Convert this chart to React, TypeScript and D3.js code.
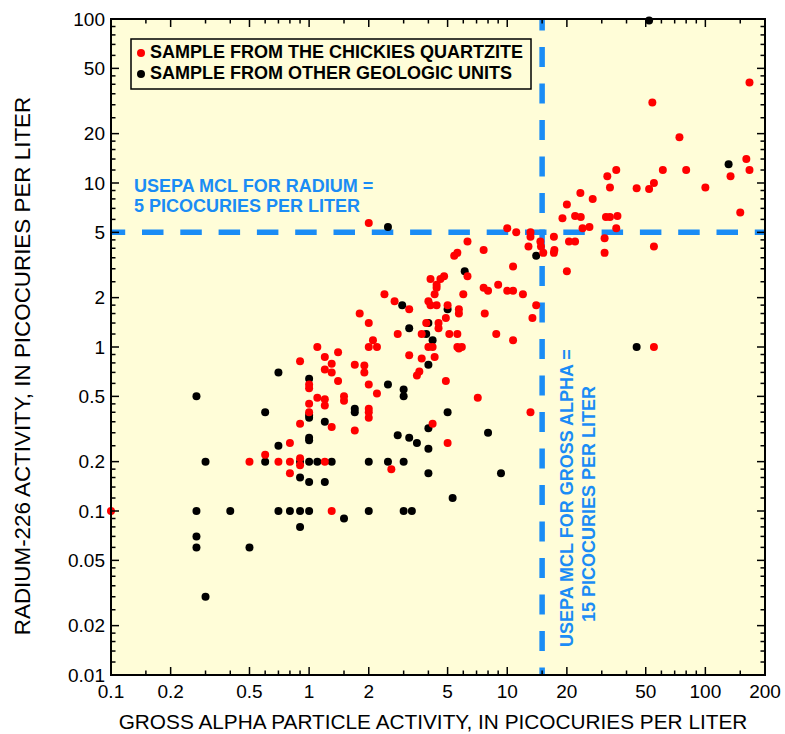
import * as d3 from 'd3';

// gross alpha (pCi/L), radium-226 (pCi/L)
const QUARTZITE: [number, number][] = [
  [167, 41], [54, 31], [74, 19], [161, 14], [167, 12], [134, 11], [80, 12], [61, 12],
  [100, 9.4], [55, 10], [52, 9.2], [45, 9.3], [35.5, 12], [32, 11], [33, 9.4], [23.4, 8.7],
  [27, 8], [20, 7.4], [19, 6.1], [22, 6.3], [23.5, 6.2], [31.5, 6.2], [33, 6.2], [36, 6.3],
  [150, 6.6], [35.5, 5.3], [26, 5.4], [24, 5.3], [17.2, 4.7], [20.5, 4.4], [22, 4.4], [31, 4.6],
  [55, 4.1], [31, 3.75], [17.3, 3.9], [17.2, 3.75], [15.2, 3.75], [14.7, 4.4], [14.8, 4.1],
  [20, 2.9], [14, 1.8], [13.4, 1.5], [55, 1.0],
  [10, 5.3], [11.1, 5.0], [13.1, 5.0], [13.1, 4.7], [12.8, 4.1], [6.3, 4.4], [7.6, 3.9],
  [5.6, 3.75], [5.4, 3.6], [10.7, 3.1], [6.3, 2.7], [4.8, 2.7], [4.6, 2.6], [4.1, 2.6],
  [4.4, 2.4], [4.4, 2.3], [9.0, 2.4], [7.6, 2.3], [8.0, 2.2], [10, 2.2], [10.7, 2.2], [12, 2.1],
  [6.0, 2.1], [4.3, 2.1], [4.0, 1.9], [4.1, 1.8], [4.4, 1.8], [5.0, 1.8], [5.7, 1.7], [5.7, 1.6],
  [7.7, 1.6], [3.2, 1.7], [4.9, 1.5], [3.9, 1.4], [4.5, 1.4], [4.5, 1.3], [3.7, 1.2], [5.1, 1.2],
  [5.6, 1.2], [8.8, 1.2], [10.7, 1.1], [4.0, 1.0], [4.2, 1.0], [5.6, 1.0], [5.7, 0.98], [5.9, 1.0],
  [3.2, 0.89], [4.3, 0.87], [3.7, 0.85], [3.6, 0.71], [3.5, 0.67], [4.9, 0.62], [7.1, 0.49],
  [13.1, 0.4], [4.2, 0.34], [5.0, 0.26],
  [2.0, 5.7], [2.4, 2.1], [2.7, 1.9], [1.8, 1.6], [2.0, 1.4], [2.8, 1.2], [2.1, 1.1], [2.0, 1.0],
  [2.2, 1.0], [1.4, 0.93], [1.7, 0.78], [1.9, 0.77], [1.9, 0.7], [1.4, 0.62], [2.0, 0.59],
  [2.2, 0.52], [1.5, 0.5], [1.5, 0.47], [2.0, 0.42], [2.0, 0.4], [2.0, 0.37], [1.7, 0.31],
  [2.6, 0.18], [1.1, 1.0], [1.2, 0.87], [0.9, 0.82], [1.3, 0.79], [1.2, 0.73], [1.3, 0.7],
  [1.0, 0.59], [1.0, 0.56], [1.1, 0.49], [1.2, 0.48], [1.2, 0.44], [1.0, 0.45], [1.0, 0.4],
  [0.9, 0.34], [1.3, 0.325], [0.8, 0.26], [0.6, 0.22], [0.7, 0.2], [0.8, 0.2], [0.9, 0.21],
  [0.9, 0.19], [1.2, 0.2], [0.8, 0.17], [1.3, 0.1], [0.5, 0.2], [0.1, 0.1],
];

const OTHER_UNITS: [number, number][] = [
  [52, 98], [131, 13], [14, 3.6], [45, 1.0], [2.5, 5.4], [6.1, 2.9], [5.0, 1.7], [2.95, 1.8],
  [4.0, 1.4], [3.2, 1.3], [3.9, 1.2], [4.2, 1.1], [4.0, 0.78], [3.0, 0.55], [3.0, 0.5],
  [5.0, 0.4], [4.0, 0.32], [8.0, 0.3], [3.2, 0.28], [2.8, 0.29], [3.5, 0.26], [4.0, 0.24],
  [2.5, 0.59], [1.7, 0.42], [1.7, 0.4], [1.0, 0.64], [0.7, 0.7], [0.6, 0.4], [0.27, 0.5],
  [1.0, 0.385], [1.0, 0.37], [1.2, 0.35], [1.0, 0.28], [1.0, 0.27], [0.7, 0.25], [0.6, 0.2],
  [0.9, 0.2], [1.0, 0.2], [1.1, 0.2], [1.3, 0.2], [2.0, 0.2], [2.5, 0.2], [3.0, 0.2], [0.3, 0.2],
  [0.9, 0.16], [1.0, 0.15], [1.2, 0.15], [4.0, 0.17], [9.3, 0.17], [5.3, 0.12], [0.27, 0.1],
  [0.4, 0.1], [0.7, 0.1], [0.8, 0.1], [0.9, 0.1], [1.0, 0.1], [2.0, 0.1], [3.0, 0.1], [3.3, 0.1],
  [1.5, 0.09], [0.9, 0.08], [0.27, 0.07], [0.27, 0.06], [0.5, 0.06], [0.3, 0.03],
];

const X_LABELS = [0.1, 0.2, 0.5, 1, 2, 5, 10, 20, 50, 100, 200];
const Y_LABELS = [0.01, 0.02, 0.05, 0.1, 0.2, 0.5, 1, 2, 5, 10, 20, 50, 100];
const X_MINOR = [1.5, 2, 3, 4, 5, 6, 7, 8, 9];
const Y_MINOR = [1.2, 1.4, 1.6, 1.8, 2, 2.5, 3, 3.5, 4, 4.5, 5, 6, 7, 8, 9];

const RADIUM_MCL = 5;
const GROSS_ALPHA_MCL = 15;

const FONT = '"Liberation Sans", Arial, Helvetica, sans-serif';
const BLUE = '#1a8cf5';
const BG = '#fffdd8';

function minorTicks(domain: [number, number], mults: number[], majors: number[]) {
  const out: number[] = [];
  for (let e = Math.floor(Math.log10(domain[0])); e <= Math.ceil(Math.log10(domain[1])); e++) {
    mults.forEach(m => {
      const v = +(m * Math.pow(10, e)).toPrecision(6);
      if (v > domain[0] && v < domain[1] && !majors.includes(v)) out.push(v);
    });
  }
  return out;
}

export default function App() {
  const x = d3.scaleLog().domain([0.1, 200]).range([111, 765]);
  const y = d3.scaleLog().domain([0.01, 100]).range([675, 19]);
  const [x0, x1] = x.range();
  const [y0, y1] = y.range();

  const xMinor = minorTicks([0.1, 200], X_MINOR, X_LABELS);
  const yMinor = minorTicks([0.01, 100], Y_MINOR, Y_LABELS);
  const fmt = (v: number) => String(v);

  const MAJ = 8, MIN = 4.5;

  return (
    <svg width={785} height={734} style={{ position: 'absolute', left: 0, top: 0, background: '#fff' }}
      fontFamily={FONT}>
      <rect x={x0} y={y1} width={x1 - x0} height={y0 - y1} fill={BG} />

      {/* MCL lines */}
      <line x1={x0} x2={x1} y1={y(RADIUM_MCL)} y2={y(RADIUM_MCL)} stroke={BLUE} strokeWidth={5.5}
        strokeDasharray="21.5 16.8" strokeDashoffset={7.3} />
      <line x1={x(GROSS_ALPHA_MCL)} x2={x(GROSS_ALPHA_MCL)} y1={y1} y2={y0} stroke={BLUE} strokeWidth={5.5}
        strokeDasharray="20 16.5" strokeDashoffset={8.5} />

      {/* Points */}
      <g>
        {OTHER_UNITS.map((d, i) => (
          <circle key={'b' + i} cx={x(d[0])} cy={y(d[1])} r={4} fill="#000" />
        ))}
        {QUARTZITE.map((d, i) => (
          <circle key={'r' + i} cx={x(d[0])} cy={y(d[1])} r={4} fill="#ff0000" />
        ))}
      </g>

      {/* Ticks on four sides */}
      <g stroke="#000" strokeWidth={1.5}>
        {X_LABELS.map(v => (
          <g key={'xm' + v}>
            <line x1={x(v)} x2={x(v)} y1={y0} y2={y0 - MAJ} />
            <line x1={x(v)} x2={x(v)} y1={y1} y2={y1 + MAJ} />
          </g>
        ))}
        {xMinor.map(v => (
          <g key={'xn' + v}>
            <line x1={x(v)} x2={x(v)} y1={y0} y2={y0 - MIN} />
            <line x1={x(v)} x2={x(v)} y1={y1} y2={y1 + MIN} />
          </g>
        ))}
        {Y_LABELS.map(v => (
          <g key={'ym' + v}>
            <line x1={x0} x2={x0 + MAJ} y1={y(v)} y2={y(v)} />
            <line x1={x1} x2={x1 - MAJ} y1={y(v)} y2={y(v)} />
          </g>
        ))}
        {yMinor.map(v => (
          <g key={'yn' + v}>
            <line x1={x0} x2={x0 + MIN} y1={y(v)} y2={y(v)} />
            <line x1={x1} x2={x1 - MIN} y1={y(v)} y2={y(v)} />
          </g>
        ))}
      </g>
      <rect x={x0} y={y1} width={x1 - x0} height={y0 - y1} fill="none" stroke="#000" strokeWidth={2} />

      {/* Tick labels */}
      <g fontSize={19} fill="#000">
        {X_LABELS.map(v => (
          <text key={'xl' + v} x={x(v)} y={698} textAnchor="middle">{fmt(v)}</text>
        ))}
        {Y_LABELS.map(v => (
          <text key={'yl' + v} x={105} y={y(v) + 6.8} textAnchor="end">{fmt(v)}</text>
        ))}
      </g>

      {/* Axis titles */}
      <text x={433} y={729} fontSize={20.8} textAnchor="middle">
        GROSS ALPHA PARTICLE ACTIVITY, IN PICOCURIES PER LITER
      </text>
      <text transform="translate(30,366) rotate(-90)" fontSize={22.4} textAnchor="middle">
        RADIUM-226 ACTIVITY, IN PICOCURIES PER LITER
      </text>

      {/* MCL annotations */}
      <g fill={BLUE} fontSize={18} fontWeight="bold">
        <text x={134} y={192}>USEPA MCL FOR RADIUM =</text>
        <text x={134} y={212}>5 PICOCURIES PER LITER</text>
        <text transform="translate(573,647) rotate(-90)">USEPA MCL FOR GROSS ALPHA =</text>
        <text transform="translate(595,622) rotate(-90)">15 PICOCURIES PER LITER</text>
      </g>

      {/* Legend */}
      <g>
        <rect x={131} y={39} width={400} height={50} fill={BG} stroke="#000" strokeWidth={1.5} />
        <circle cx={141} cy={53} r={4} fill="#ff0000" />
        <circle cx={141} cy={74} r={4} fill="#000" />
        <text x={150} y={58} fontSize={18} fontWeight="bold">SAMPLE FROM THE CHICKIES QUARTZITE</text>
        <text x={150} y={79} fontSize={18} fontWeight="bold">SAMPLE FROM OTHER GEOLOGIC UNITS</text>
      </g>
    </svg>
  );
}
